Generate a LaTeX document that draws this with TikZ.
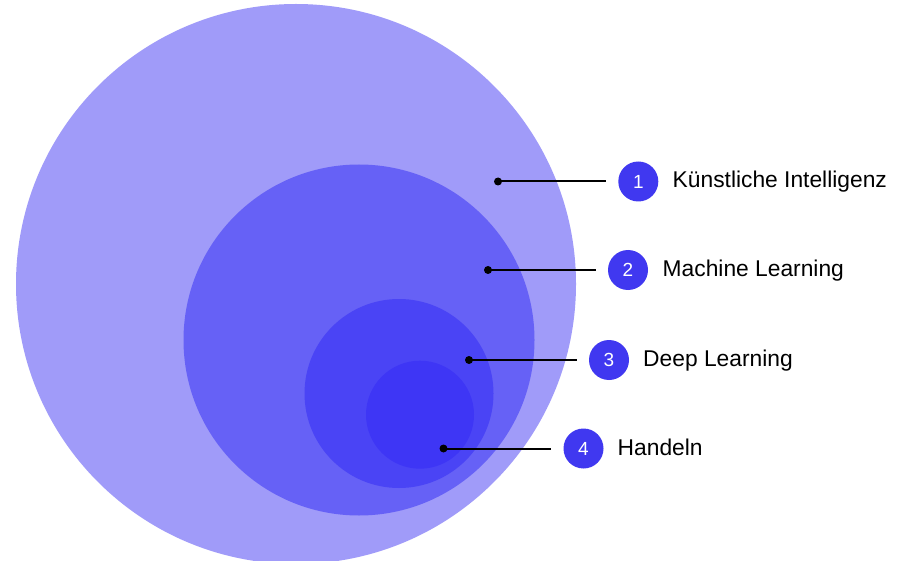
\documentclass[tikz,border=0pt]{standalone}
\usepackage{fontspec}
\setmainfont{Liberation Sans}
\definecolor{cai}{RGB}{160,155,249}
\definecolor{cml}{RGB}{102,97,246}
\definecolor{cdl}{RGB}{74,68,245}
\definecolor{cha}{RGB}{62,54,245}
\definecolor{cbadge}{RGB}{64,56,240}
\tikzset{
  ring/.style={circle, draw=none, inner sep=0pt},
  dotmark/.style={circle, fill=black, inner sep=0pt, minimum size=8pt},
  badge/.style={circle, fill=cbadge, inner sep=0pt, minimum size=40pt, text=white, font=\fontsize{19}{19}\selectfont},
  lbl/.style={anchor=base west, inner sep=0pt, font=\fontsize{22.8}{24}\selectfont, text=black},
  conn/.style={line width=2pt, black}
}
\begin{document}
\begin{tikzpicture}[x=1pt,y=-1pt]
\useasboundingbox (0,0) rectangle (907,561);
\clip (0,0) rectangle (907,561);
\fill[white] (0,0) rectangle (907,561);
\node[ring, fill=cai, minimum size=560pt] (ai) at (296,284) {};
\node[ring, fill=cml, minimum size=351pt] (ml) at (359,340) {};
\node[ring, fill=cdl, minimum size=189pt] (dl) at (399,393.5) {};
\node[ring, fill=cha, minimum size=108pt] (ha) at (420,414.7) {};

\node[dotmark] (d1) at (498,181.5) {};
\node[dotmark] (d2) at (488,270) {};
\node[dotmark] (d3) at (469,360) {};
\node[dotmark] (d4) at (443.5,448.5) {};

\node[badge] (b1) at (638.3,181.5) {1};
\node[badge] (b2) at (628,270) {2};
\node[badge] (b3) at (609,360) {3};
\node[badge] (b4) at (583.5,448.5) {4};

\draw[conn] (d1.center) -- ([xshift=-12pt]b1.west);
\draw[conn] (d2.center) -- ([xshift=-12pt]b2.west);
\draw[conn] (d3.center) -- ([xshift=-12pt]b3.west);
\draw[conn] (d4.center) -- ([xshift=-12pt]b4.west);

\node[lbl] (t1) at (672.5,187.5) {Künstliche Intelligenz};
\node[lbl] (t2) at (662.5,276.5) {Machine Learning};
\node[lbl] (t3) at (643,366) {Deep Learning};
\node[lbl] (t4) at (617.5,455) {Handeln};
\end{tikzpicture}
\end{document}
